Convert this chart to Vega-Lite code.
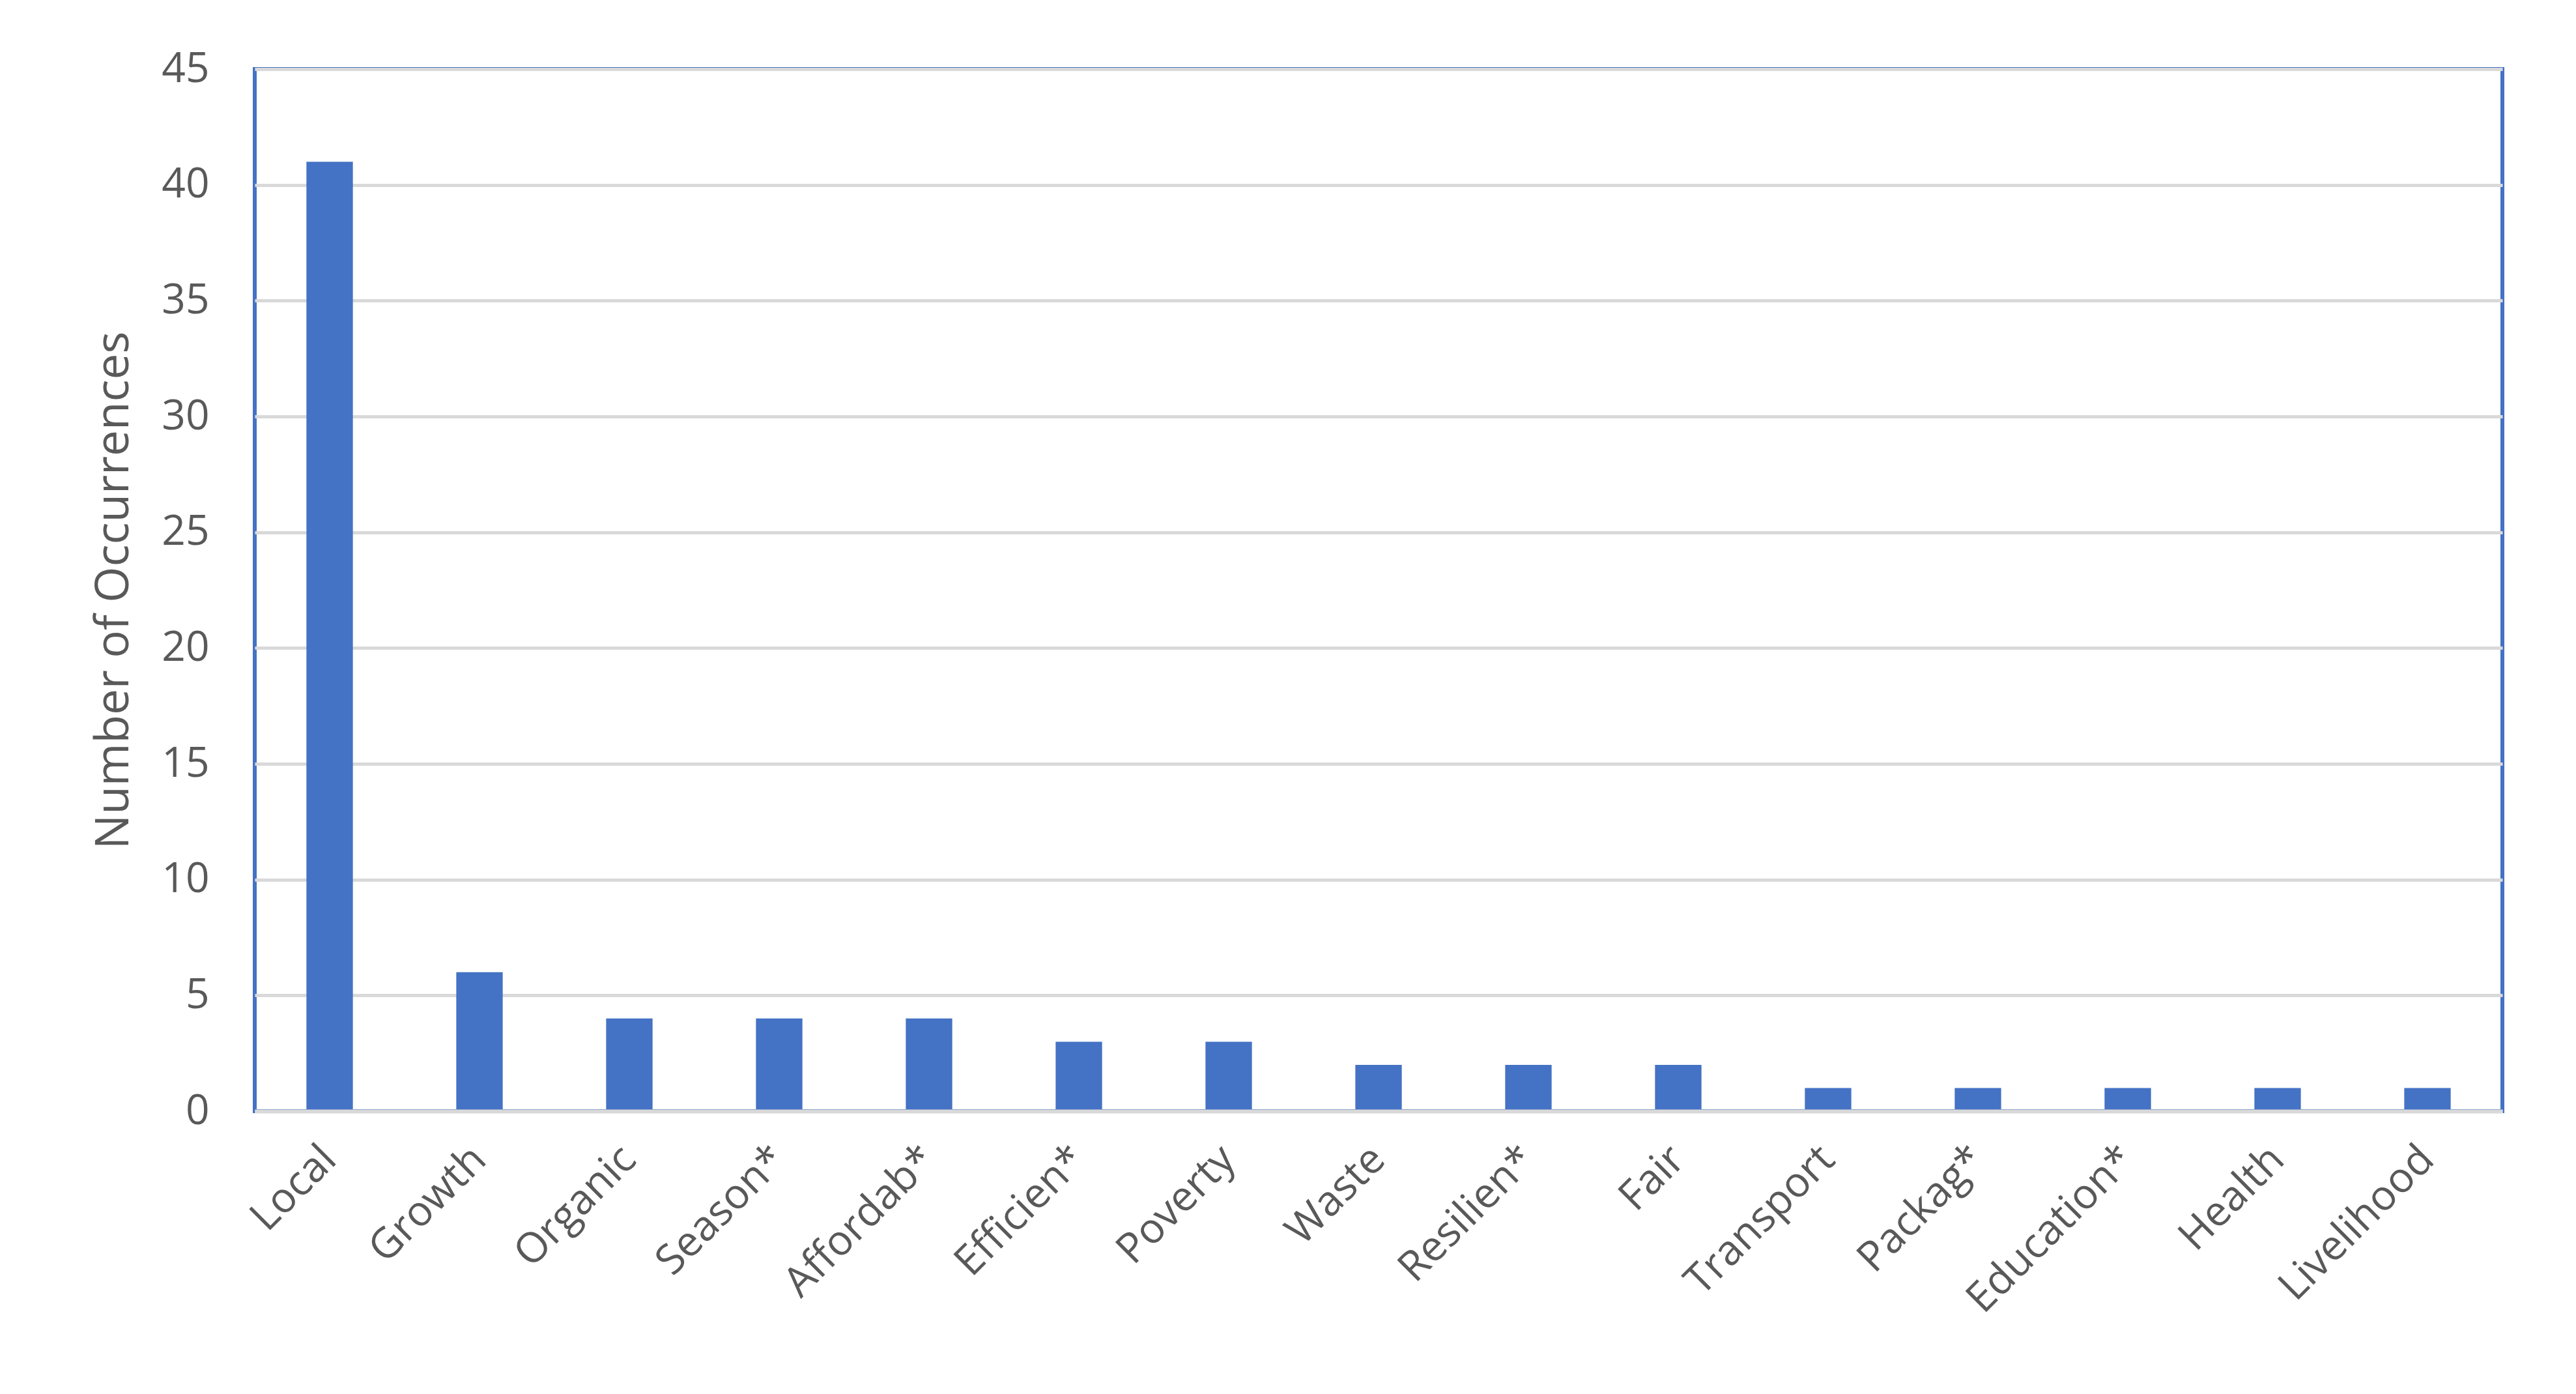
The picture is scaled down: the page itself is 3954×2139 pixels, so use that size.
{
  "$schema": "https://vega.github.io/schema/vega-lite/v6.json",
  "width": 3450,
  "height": 1599,
  "autosize": "none",
  "padding": {"left": 391, "top": 106, "right": 113, "bottom": 434},
  "background": "white",
  "data": {
    "values": [
      {"term": "Local", "count": 41},
      {"term": "Growth", "count": 6},
      {"term": "Organic", "count": 4},
      {"term": "Season*", "count": 4},
      {"term": "Affordab*", "count": 4},
      {"term": "Efficien*", "count": 3},
      {"term": "Poverty", "count": 3},
      {"term": "Waste", "count": 2},
      {"term": "Resilien*", "count": 2},
      {"term": "Fair", "count": 2},
      {"term": "Transport", "count": 1},
      {"term": "Packag*", "count": 1},
      {"term": "Education*", "count": 1},
      {"term": "Health", "count": 1},
      {"term": "Livelihood", "count": 1}
    ]
  },
  "mark": {"type": "bar", "color": "#4472c4", "width": {"band": 0.31}},
  "encoding": {
    "x": {
      "field": "term",
      "type": "nominal",
      "sort": null,
      "scale": {"paddingInner": 0, "paddingOuter": 0},
      "axis": {
        "title": null,
        "labelAngle": -45,
        "labelAlign": "right",
        "labelBaseline": "middle",
        "labelPadding": 64,
        "labelFont": "Open Sans",
        "labelFontSize": 64,
        "labelColor": "#595959",
        "labelLimit": 0,
        "ticks": false,
        "domainColor": "#d9d9d9",
        "domainWidth": 6,
        "zindex": 1,
        "labelOverlap": false
      }
    },
    "y": {
      "field": "count",
      "type": "quantitative",
      "scale": {"domain": [0, 45], "nice": false},
      "axis": {
        "title": "Number of Occurrences",
        "values": [0, 5, 10, 15, 20, 25, 30, 35, 40, 45],
        "titleFont": "Open Sans",
        "titleFontSize": 71,
        "titleFontWeight": "normal",
        "titleColor": "#595959",
        "titlePadding": 36,
        "labelFont": "Open Sans",
        "labelFontSize": 64,
        "labelColor": "#595959",
        "labelPadding": 70,
        "ticks": false,
        "domain": false,
        "gridColor": "#d9d9d9",
        "gridWidth": 5
      }
    }
  },
  "config": {
    "view": {"stroke": "#4472c4", "strokeWidth": 6}
  }
}
